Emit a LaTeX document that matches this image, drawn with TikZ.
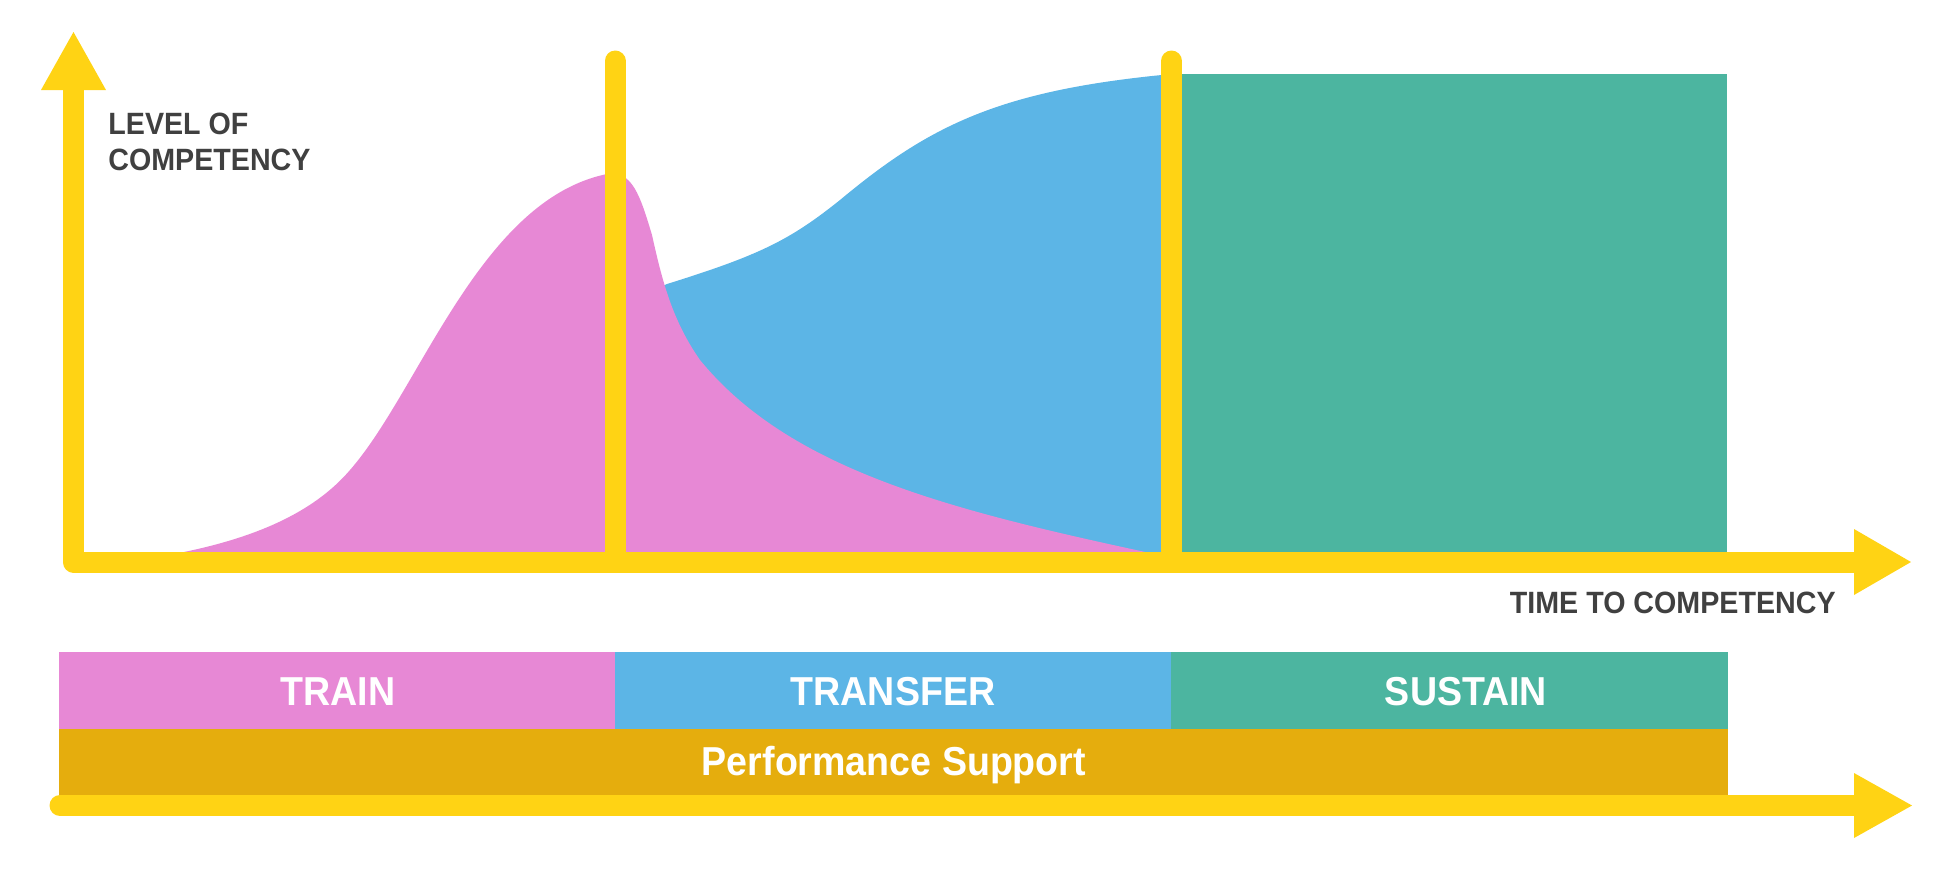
\documentclass[tikz,border=0pt]{standalone}
\usepackage{fontspec}
\setmainfont{Liberation Sans}
\newfontfamily\condfont{Liberation Sans}[FakeStretch=0.93]
\definecolor{cpink}{HTML}{E788D5}
\definecolor{cblue}{HTML}{5CB5E6}
\definecolor{cgreen}{HTML}{4CB5A0}
\definecolor{cyellow}{HTML}{FFD314}
\definecolor{cgold}{HTML}{E5AD0D}
\definecolor{cgray}{HTML}{404040}
\tikzset{
  axisline/.style={draw=cyellow, line width=10.5pt, line join=round},
  marker/.style={draw=cyellow, line width=10.5pt, line cap=round},
  axislabel/.style={font=\condfont\bfseries\fontsize{15.4}{18}\selectfont, text=cgray, inner sep=0pt},
  barlabel/.style={font=\condfont\bfseries\fontsize{20.2}{24}\selectfont, text=white, inner sep=0pt},
}
\begin{document}
\begin{tikzpicture}[x=0.5pt, y=-0.5pt]
\useasboundingbox (0,0) rectangle (1940,880);

% transfer (blue) area
\fill[cblue] (640,296) -- (667,284)
  .. controls (760,255) and (790,240) .. (840,200)
  .. controls (930,125) and (1000,90) .. (1172,74)
  -- (1172,560) -- (640,560) -- cycle;
% train (pink) area
\fill[cpink] (179,553)
  .. controls (270,535) and (320,505) .. (350,470)
  .. controls (420,390) and (480,200) .. (607,174)
  .. controls (632,170) and (640,195) .. (652,235)
  .. controls (662,280) and (672,320) .. (700,360)
  .. controls (790,470) and (950,510) .. (1150,553)
  -- cycle;
% sustain (green) area
\fill[cgreen] (1172,74) rectangle (1727,560);

% phase markers
\coordinate (m1top) at (615,61);
\coordinate (m1bot) at (615,560);
\coordinate (m2top) at (1171.5,61);
\coordinate (m2bot) at (1171.5,560);
\draw[marker] (m1bot) -- (m1top);
\draw[marker] (m2bot) -- (m2top);

% axes
\coordinate (ytop) at (73.5,90);
\coordinate (orig) at (73.5,562);
\coordinate (xend) at (1854,562);
\draw[axisline] (ytop) -- (orig) -- (xend);
\fill[cyellow] (41,90) -- (73.5,32) -- (106,90) -- cycle;
\fill[cyellow] (1854,529) -- (1911,562) -- (1854,595) -- cycle;

\node[axislabel, anchor=base west] (lvl1) at (108,134) {LEVEL OF};
\node[axislabel, anchor=base west] (lvl2) at (108,170) {COMPETENCY};
\node[axislabel, anchor=base east] (ttc) at (1836,613) {TIME TO COMPETENCY};

% phase bars
\fill[cpink] (59,652) rectangle (615,729);
\fill[cblue] (615,652) rectangle (1171,729);
\fill[cgreen] (1171,652) rectangle (1728,729);
\fill[cgold] (59,729) rectangle (1728,795);
\node[barlabel, anchor=base] (train) at (338,705) {TRAIN};
\node[barlabel, anchor=base] (transfer) at (893,705) {TRANSFER};
\node[barlabel, anchor=base] (sustain) at (1466,705) {SUSTAIN};
\node[barlabel, anchor=base] (perf) at (894,775) {Performance Support};

% bottom arrow
\coordinate (bstart) at (60,805.5);
\coordinate (bend) at (1854,805.5);
\draw[marker] (bstart) -- (bend);
\fill[cyellow] (1854,773) -- (1912,805.5) -- (1854,838) -- cycle;
\end{tikzpicture}
\end{document}
